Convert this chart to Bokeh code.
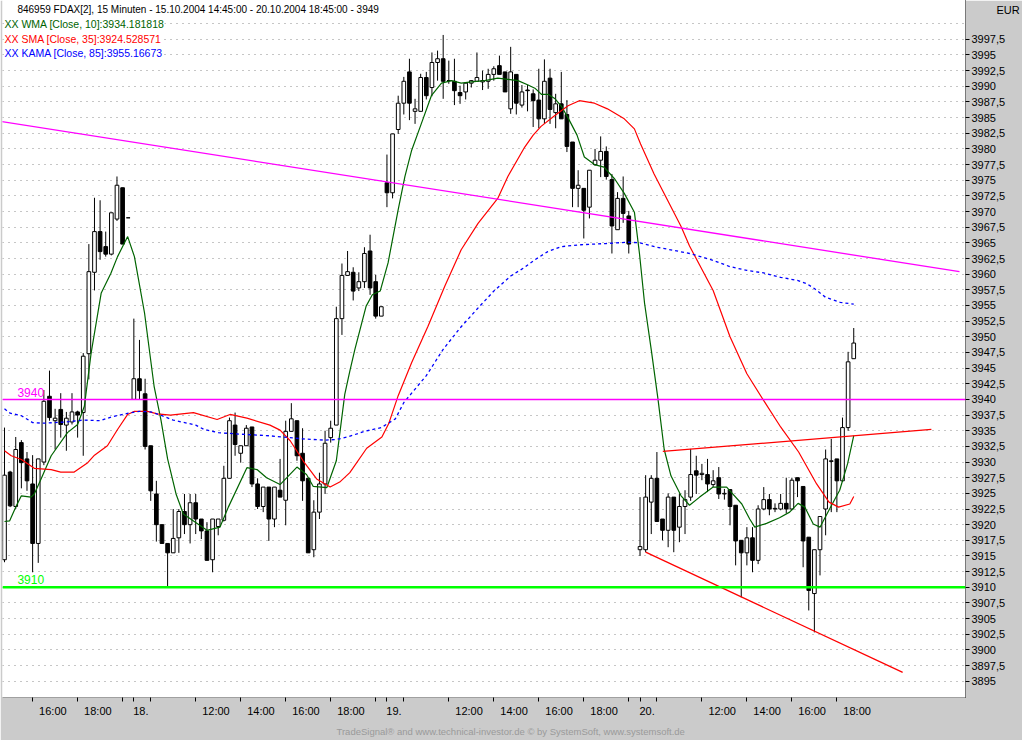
from bokeh.plotting import figure
from bokeh.models import ColumnDataSource, Range1d, FixedTicker, Label, Title, Span, LinearAxis
from bokeh.embed import file_html
from bokeh.resources import INLINE

# FDAX 15 minute bars, numbered from the first bar (15.10.2004 14:45)
bar = list(range(0, 112)) + list(range(113, 152))

open_ = [3914.4, 3928.4, 3922.9, 3933.1, 3930.5, 3926.5, 3917.0, 3930.0, 3940.5, 3936.6,
         3938.4, 3935.9, 3936.4, 3938.0, 3937.9, 3947.3, 3960.3, 3966.8, 3964.4, 3963.2,
         3968.8, 3973.8, 3969.0, 3940.0, 3943.3, 3940.9, 3932.6, 3924.9, 3920.0, 3917.0,
         3915.5, 3917.9, 3922.1, 3920.0, 3923.5, 3920.9, 3919.0, 3914.4, 3919.7, 3920.7,
         3927.4, 3935.9, 3931.4, 3932.6, 3935.6, 3926.5, 3922.9, 3926.0, 3920.9, 3925.5,
         3923.9, 3934.9, 3936.6, 3931.4, 3927.4, 3916.0, 3922.0, 3926.5, 3933.9, 3935.9,
         3952.9, 3959.8, 3960.3, 3957.8, 3958.8, 3963.7, 3958.8, 3953.3, 3974.6, 3973.0,
         3983.1, 3987.3, 3992.3, 3986.0, 3986.0, 3991.4, 3989.8, 3993.8, 3994.4, 3990.9,
         3990.8, 3989.0, 3989.1, 3990.5, 3990.8, 3990.7, 3990.8, 3991.9, 3993.3, 3992.3,
         3986.4, 3991.9, 3987.0, 3989.4, 3988.8, 3987.8, 3984.8, 3991.3, 3985.8, 3987.2,
         3985.5, 3981.1, 3973.7, 3973.7, 3970.7, 3977.5, 3978.2, 3979.6, 3975.1, 3967.1,
         3972.1, 3969.3,
         3916.0, 3916.0, 3923.6, 3927.4, 3920.9, 3919.1, 3924.4, 3919.6, 3922.9, 3924.4,
         3928.6, 3928.0, 3928.0, 3926.4, 3927.5, 3924.9, 3925.6, 3923.1, 3917.5, 3915.5,
         3917.9, 3914.3, 3922.5, 3924.0, 3922.5, 3922.5, 3923.4, 3922.5, 3927.5, 3926.1,
         3918.0, 3909.0, 3916.0, 3922.5, 3930.1, 3930.5, 3927.0, 3935.5, 3946.5]
high = [3935.5, 3928.6, 3934.0, 3933.5, 3931.6, 3931.1, 3930.5, 3941.5, 3944.6, 3938.5,
        3941.0, 3938.0, 3941.0, 3938.2, 3947.4, 3964.8, 3972.2, 3971.8, 3966.8, 3969.8,
        3975.6, 3973.8, 3969.0, 3952.9, 3949.5, 3943.3, 3932.6, 3927.0, 3920.0, 3917.0,
        3922.5, 3922.5, 3924.9, 3924.9, 3924.9, 3920.9, 3920.4, 3920.9, 3920.9, 3929.4,
        3937.1, 3937.9, 3932.6, 3935.9, 3935.6, 3927.4, 3926.0, 3926.0, 3926.0, 3930.5,
        3936.6, 3939.4, 3936.6, 3935.4, 3927.4, 3923.9, 3928.3, 3935.0, 3936.6, 3954.8,
        3961.7, 3963.7, 3961.1, 3960.3, 3964.3, 3966.3, 3959.9, 3954.8, 3979.1, 3982.4,
        3988.5, 3991.5, 3994.4, 3988.0, 3992.0, 3992.3, 3995.4, 3995.7, 3998.2, 3994.1,
        3994.4, 3990.1, 3990.5, 3991.0, 3995.4, 3992.5, 3992.8, 3993.2, 3994.9, 3992.3,
        3996.3, 3991.9, 3990.2, 3990.2, 3989.5, 3992.8, 3994.3, 3992.8, 3988.8, 3992.3,
        3987.8, 3981.1, 3976.6, 3973.7, 3976.6, 3980.0, 3982.0, 3980.4, 3976.0, 3973.1,
        3975.6, 3970.1,
        3924.4, 3927.9, 3927.9, 3931.6, 3920.9, 3925.0, 3924.4, 3925.0, 3925.5, 3932.1,
        3931.0, 3929.7, 3930.5, 3928.7, 3929.2, 3925.7, 3925.6, 3923.1, 3917.5, 3919.6,
        3919.6, 3923.1, 3926.0, 3924.9, 3923.4, 3924.9, 3927.5, 3927.5, 3927.5, 3926.1,
        3918.0, 3916.0, 3921.3, 3932.0, 3933.7, 3930.5, 3937.1, 3947.6, 3951.4]
low = [3914.0, 3922.8, 3922.5, 3925.8, 3925.4, 3912.4, 3913.9, 3929.5, 3936.6, 3932.0,
       3933.9, 3931.8, 3936.0, 3933.9, 3931.0, 3943.2, 3957.4, 3962.3, 3962.8, 3963.0,
       3968.5, 3964.8, 3969.0, 3940.0, 3940.0, 3932.0, 3923.8, 3917.3, 3917.0, 3910.2,
       3915.5, 3915.5, 3918.5, 3917.0, 3918.5, 3917.7, 3914.3, 3912.4, 3918.3, 3920.5,
       3927.4, 3931.0, 3929.9, 3932.6, 3926.0, 3922.5, 3922.0, 3917.4, 3919.6, 3924.4,
       3919.9, 3934.9, 3930.2, 3923.8, 3915.5, 3914.8, 3920.9, 3924.9, 3933.1, 3935.9,
       3950.3, 3959.8, 3955.8, 3957.3, 3957.8, 3956.7, 3952.9, 3953.3, 3970.7, 3972.1,
       3982.4, 3985.5, 3984.6, 3984.0, 3986.0, 3987.9, 3988.4, 3990.9, 3988.0, 3990.4,
       3987.0, 3987.2, 3987.9, 3989.8, 3990.7, 3989.4, 3989.6, 3990.9, 3991.9, 3989.1,
       3985.6, 3985.5, 3986.6, 3986.0, 3983.5, 3983.3, 3984.0, 3984.0, 3983.3, 3984.8,
       3979.5, 3970.7, 3970.7, 3965.7, 3968.9, 3977.3, 3975.5, 3975.1, 3963.3, 3967.1,
       3968.2, 3963.3,
       3915.0, 3915.6, 3918.5, 3920.5, 3917.5, 3916.4, 3915.6, 3917.2, 3918.5, 3923.8,
       3924.9, 3927.1, 3925.2, 3926.0, 3924.1, 3924.0, 3919.9, 3913.5, 3908.4, 3913.5,
       3912.4, 3913.7, 3922.3, 3921.5, 3922.0, 3922.3, 3921.8, 3922.3, 3924.4, 3913.2,
       3906.3, 3902.8, 3911.9, 3918.3, 3922.0, 3922.0, 3926.8, 3935.0, 3946.5]
close = [3927.9, 3923.0, 3932.0, 3929.9, 3927.0, 3917.0, 3930.5, 3939.7, 3937.1, 3937.0,
         3936.0, 3937.0, 3938.0, 3937.5, 3946.9, 3960.4, 3966.8, 3963.6, 3963.2, 3969.8,
         3974.2, 3964.8, 3969.0, 3943.3, 3941.4, 3932.5, 3925.4, 3920.0, 3917.0, 3915.5,
         3917.8, 3922.1, 3920.0, 3923.5, 3920.9, 3919.0, 3914.3, 3920.9, 3920.9, 3927.4,
         3936.6, 3932.8, 3932.6, 3935.4, 3926.5, 3922.9, 3926.0, 3920.9, 3926.0, 3924.4,
         3934.9, 3936.9, 3931.0, 3927.0, 3915.5, 3922.0, 3926.5, 3933.0, 3935.4, 3952.9,
         3959.8, 3960.4, 3957.3, 3958.8, 3963.3, 3957.8, 3953.3, 3954.8, 3973.0, 3982.4,
         3987.3, 3990.8, 3987.3, 3986.4, 3991.4, 3988.5, 3993.8, 3994.4, 3990.8, 3990.9,
         3989.3, 3988.5, 3990.5, 3990.9, 3991.4, 3990.9, 3991.9, 3992.8, 3991.9, 3989.1,
         3992.3, 3987.3, 3989.1, 3989.3, 3987.7, 3984.8, 3990.8, 3986.3, 3987.2, 3984.8,
         3980.4, 3973.7, 3974.2, 3970.2, 3976.6, 3978.2, 3979.6, 3975.6, 3967.7, 3972.1,
         3969.7, 3964.8,
         3916.5, 3924.4, 3927.4, 3920.5, 3919.1, 3924.4, 3919.1, 3922.9, 3924.0, 3928.0,
         3927.9, 3928.2, 3926.5, 3927.0, 3924.9, 3925.0, 3922.9, 3917.4, 3915.5, 3917.9,
         3914.3, 3922.5, 3924.0, 3922.5, 3922.6, 3923.4, 3922.5, 3927.1, 3927.0, 3917.4,
         3909.5, 3916.0, 3921.3, 3930.5, 3930.2, 3927.0, 3935.5, 3946.0, 3949.0]

# WMA [Close, 10]
wma_x = [0, 0.9, 2.1, 3.0, 4.7, 5.3, 6.5, 8.3, 11.2, 13.0, 14.2, 15.4, 17.2, 18.9, 20.1,
         21.9, 23.1, 24.9, 26.6, 27.8, 29.0, 30.5, 31.8, 36.0, 38.3, 39.8, 43.1, 44.9, 46.6,
         49.0, 50.2, 52.0, 53.7, 54.9, 57.3, 59.0, 60.5, 61.4, 62.3, 64.3, 65.4, 66.8, 68.2,
         70.0, 71.2, 72.4, 74.1, 75.9, 77.7, 79.5, 81.2, 83.0, 85.4, 87.7, 89.5, 91.3, 93.1,
         94.3, 95.5, 96.7, 97.9, 99.1, 100.3, 101.8, 103.1, 104.9, 106.6, 108.5, 110.2, 112.0,
         112.9, 113.8, 115.0, 116.2, 117.3, 118.5, 120.3, 121.8, 123.6, 126.0, 128.4, 131.1,
         132.5, 133.4, 135.5, 137.8, 139.6, 141.1, 142.3, 143.8, 145.0, 146.7, 148.5, 149.9,
         151.0]
wma_y = [3920.5, 3920.6, 3923.0, 3924.6, 3924.4, 3924.9, 3927.3, 3931.0, 3934.7, 3936.0,
         3938.9, 3947.4, 3957.0, 3960.1, 3962.8, 3966.0, 3962.8, 3953.8, 3942.1, 3936.8,
         3930.5, 3924.9, 3921.7, 3919.1, 3919.6, 3922.8, 3929.1, 3928.8, 3927.5, 3926.4,
         3927.5, 3929.2, 3928.0, 3926.1, 3925.9, 3930.2, 3940.8, 3944.5, 3948.0, 3954.9,
         3956.7, 3957.3, 3961.8, 3970.3, 3975.6, 3979.8, 3984.0, 3988.5, 3990.5, 3990.9,
         3990.5, 3990.7, 3990.9, 3991.3, 3991.1, 3990.9, 3990.2, 3989.7, 3988.7, 3988.7,
         3988.0, 3986.7, 3984.8, 3982.2, 3978.7, 3977.5, 3977.1, 3975.2, 3972.9, 3969.9,
         3963.3, 3955.4, 3947.9, 3940.0, 3932.0, 3927.8, 3924.6, 3923.1, 3924.4, 3926.0,
         3926.0, 3923.3, 3920.9, 3919.6, 3920.2, 3921.1, 3922.0, 3923.4, 3922.8, 3920.1,
         3919.6, 3922.5, 3925.5, 3929.7, 3934.2]

# SMA [Close, 35]
sma_x = [0, 1.2, 3.0, 5.3, 8.3, 10.0, 12.4, 14.8, 16.0, 18.3, 20.1, 21.9, 23.1, 25.4, 27.2,
         29.5, 33.6, 37.8, 40.1, 43.1, 47.2, 49.0, 50.8, 53.1, 55.5, 57.9, 59.6, 61.4, 64.4,
         67.1, 68.3, 70.0, 72.4, 75.3, 78.3, 81.2, 84.2, 87.7, 89.5, 92.5, 94.0, 95.4, 97.8,
         100.2, 102.2, 104.9, 107.2, 110.2, 112.0, 113.1, 115.5, 117.9, 120.3, 121.8, 126.0,
         129.0, 132.0, 135.0, 138.0, 141.2, 144.4, 146.6, 148.3, 150.3, 151.0]
sma_y = [3931.8, 3931.0, 3930.4, 3929.0, 3928.8, 3928.4, 3928.4, 3929.9, 3931.1, 3932.6,
         3935.2, 3937.6, 3938.1, 3938.1, 3937.7, 3937.5, 3937.9, 3936.8, 3937.6, 3937.0,
         3935.9, 3935.1, 3933.4, 3930.2, 3927.3, 3926.0, 3926.8, 3928.3, 3932.2, 3934.0,
         3936.1, 3940.6, 3945.9, 3951.7, 3958.1, 3963.9, 3968.1, 3972.1, 3975.6, 3980.3,
         3982.2, 3983.6, 3985.3, 3986.9, 3987.7, 3987.3, 3986.4, 3984.8, 3983.2, 3980.8,
         3976.0, 3971.8, 3967.6, 3964.5, 3957.4, 3950.0, 3944.1, 3939.8, 3935.6, 3931.6,
         3926.5, 3923.6, 3922.8, 3923.3, 3924.5]

# KAMA [Close, 85]
kama_x = [0, 1, 3, 5, 7, 11, 14, 17, 19, 22, 24, 26, 28, 30, 34, 35.5, 38, 41, 47, 53, 57,
          59, 61, 64, 67, 69.5, 71, 75, 78, 81, 84, 87, 90, 92.5, 94.3, 96.6, 99, 102.5, 107,
          111, 113, 116, 119, 121.8, 123, 126, 129, 132, 135, 138, 141, 142.6, 144, 146,
          148.6, 151]
kama_y = [3938.5, 3937.8, 3937.4, 3936.3, 3936.2, 3936.4, 3936.7, 3936.6, 3937.2, 3937.8,
          3938.1, 3938.0, 3937.4, 3936.7, 3935.9, 3935.2, 3934.7, 3934.5, 3934.2, 3933.7,
          3933.5, 3933.6, 3934.0, 3934.9, 3935.5, 3936.9, 3939.5, 3943.8, 3948.0, 3951.4,
          3954.4, 3957.3, 3959.7, 3961.1, 3962.3, 3963.6, 3964.4, 3964.7, 3964.9, 3965.1,
          3965.0, 3964.3, 3963.8, 3963.3, 3963.0, 3962.2, 3961.2, 3960.6, 3960.2, 3959.5,
          3959.0, 3958.5, 3957.7, 3956.3, 3955.5, 3955.2]

# drawn trend lines: resistance (magenta), upper and lower channel (red)
trend_x = [[-0.71, 169.8], [117.05, 164.8], [114.0, 159.7]]
trend_y = [[3984.4, 3960.4], [3931.7, 3935.2], [3915.6, 3896.4]]

levels = [3940, 3910]

time_ticks = [5, 13, 21, 23, 26, 34, 42, 50, 58, 66, 68, 71, 79, 87, 95, 103, 111,
              113, 116, 124, 132, 140, 148]
time_labels = ["16:00", "18:00", "", "18.", "", "12:00", "14:00", "16:00", "18:00", "",
               "19.", "", "12:00", "14:00", "16:00", "18:00", "", "20.", "", "12:00",
               "14:00", "16:00", "18:00"]
price_ticks = [3895 + 2.5 * k for k in range(42)]
currency_tick = 4002.2

FONT = "Liberation Sans"
GRAY = "#cbcbcb"

src = ColumnDataSource(dict(
    bar=bar, high=high, low=low,
    top=[max(o, c) for o, c in zip(open_, close)],
    bottom=[min(o, c) for o, c in zip(open_, close)],
    fill=["white" if c >= o else "black" for o, c in zip(open_, close)],
))

p = figure(width=1022, height=740, x_range=Range1d(-0.355, 170.87),
           y_range=Range1d(3892.4, 4003.7), y_axis_location="right",
           toolbar_location=None, output_backend="svg",
           min_border_left=2, min_border_right=56, min_border_top=0, min_border_bottom=43,
           background_fill_color="white", border_fill_color=GRAY, outline_line_color=None)

# grid: dotted horizontal lines only
p.xgrid.visible = False
p.ygrid.ticker = FixedTicker(ticks=price_ticks + [4000])
p.ygrid.grid_line_color = "#8c8c8c"
p.ygrid.grid_line_dash = "1 5"

# candles
p.segment(x0="bar", y0="high", x1="bar", y1="low", source=src, line_color="black", line_width=1)
p.vbar(x="bar", width=0.65, top="top", bottom="bottom", source=src,
       fill_color="fill", line_color="black", line_width=1)

# indicators
p.line(wma_x, wma_y, line_color="#006400", line_width=1.2)
p.line(sma_x, sma_y, line_color="#ff0000", line_width=1.2)
p.line(kama_x, kama_y, line_color="#0000ff", line_width=1.3, line_dash="3 3")

# levels and trend lines
p.add_layout(Span(location=levels[0], dimension="width", line_color="#ff00ff", line_width=1.5))
p.add_layout(Span(location=levels[1], dimension="width", line_color="#00ff00", line_width=2.5))
p.multi_line(trend_x, trend_y, line_color=["#ff00ff", "#ff0000", "#ff0000"], line_width=1.3)

p.add_layout(Label(x=2.3, y=levels[0], y_offset=2, text="3940", text_color="#ff00ff",
                   text_font=FONT, text_font_size="12px", text_baseline="bottom"))
p.add_layout(Label(x=2.3, y=levels[1], y_offset=3, text="3910", text_color="#00ff00",
                   text_font=FONT, text_font_size="12px", text_baseline="bottom"))

# header and legend texts
p.add_layout(Label(x=2.3, y=4002.2,
                   text="846959  FDAX[2], 15 Minuten - 15.10.2004 14:45:00 - 20.10.2004 18:45:00 - 3949",
                   text_font=FONT, text_font_size="10px", text_baseline="middle",
                   text_color="black"))
legend_rows = [("XX WMA [Close, 10]:3934.181818", "#006400", 4000.0),
               ("XX SMA [Close, 35]:3924.528571", "#ff0000", 3997.6),
               ("XX KAMA [Close, 85]:3955.16673", "#0000ff", 3995.3)]
for txt, col, yv in legend_rows:
    p.add_layout(Label(x=0, y=yv, text=txt, text_color=col, text_font=FONT,
                       text_font_size="10.5px", text_baseline="middle",
                       background_fill_color="white"))

# time axis: tick marks on the first axis, texts on a second one
# (the texts start just right of their tick)
xa = p.xaxis[0]
xa.ticker = FixedTicker(ticks=time_ticks)
xa.major_label_overrides = {t: "" for t in time_ticks}
xa.major_label_text_font_size = "1px"
xa.major_label_standoff = 0
xa.major_tick_in = 0
xa.major_tick_out = 4
xa.major_tick_line_color = "black"
xa.minor_tick_line_color = None
xa.axis_line_color = "#a0a0a0"

label_pos, label_txt = [], []
for t, s in zip(time_ticks, time_labels):
    if s:
        label_pos.append(t + (1.25 if s.endswith(".") else 3.6))
        label_txt.append(s)
xl = LinearAxis(ticker=FixedTicker(ticks=label_pos),
                major_label_overrides=dict(zip(label_pos, label_txt)),
                major_label_text_font=FONT, major_label_text_font_size="11px",
                major_label_text_color="black", major_label_standoff=3,
                major_tick_in=0, major_tick_out=0, minor_tick_line_color=None,
                axis_line_color=None)
p.add_layout(xl, "below")

# price axis
ya = p.yaxis[0]
ya.ticker = FixedTicker(ticks=price_ticks)
ya.major_label_overrides = {t: ("%g" % t).replace(".", ",") for t in price_ticks}
ya.major_label_text_font = FONT
ya.major_label_text_font_size = "11px"
ya.major_label_text_color = "black"
ya.major_label_standoff = 2
ya.major_tick_in = 0
ya.major_tick_out = 4
ya.major_tick_line_color = "black"
ya.minor_tick_line_color = None
ya.axis_line_color = "black"
ya.axis_line_dash = "1 1"

# currency header in the price panel
ycur = LinearAxis(ticker=FixedTicker(ticks=[currency_tick]),
                  major_label_overrides={currency_tick: "EUR"},
                  major_label_text_font=FONT, major_label_text_font_size="11px",
                  major_label_text_color="black", major_label_standoff=-12,
                  major_tick_in=0, major_tick_out=0, minor_tick_line_color=None,
                  axis_line_color=None)
p.add_layout(ycur, "right")

footer = Title(text="TradeSignal\u00ae and www.technical-investor.de \u00a9 by SystemSoft, www.systemsoft.de",
               align="left", offset=334, text_font=FONT, text_font_size="9.5px",
               text_font_style="normal", text_color="#9a9a9a", standoff=8)
p.add_layout(footer, "below")

open("out.html", "w").write(file_html(p, INLINE))
